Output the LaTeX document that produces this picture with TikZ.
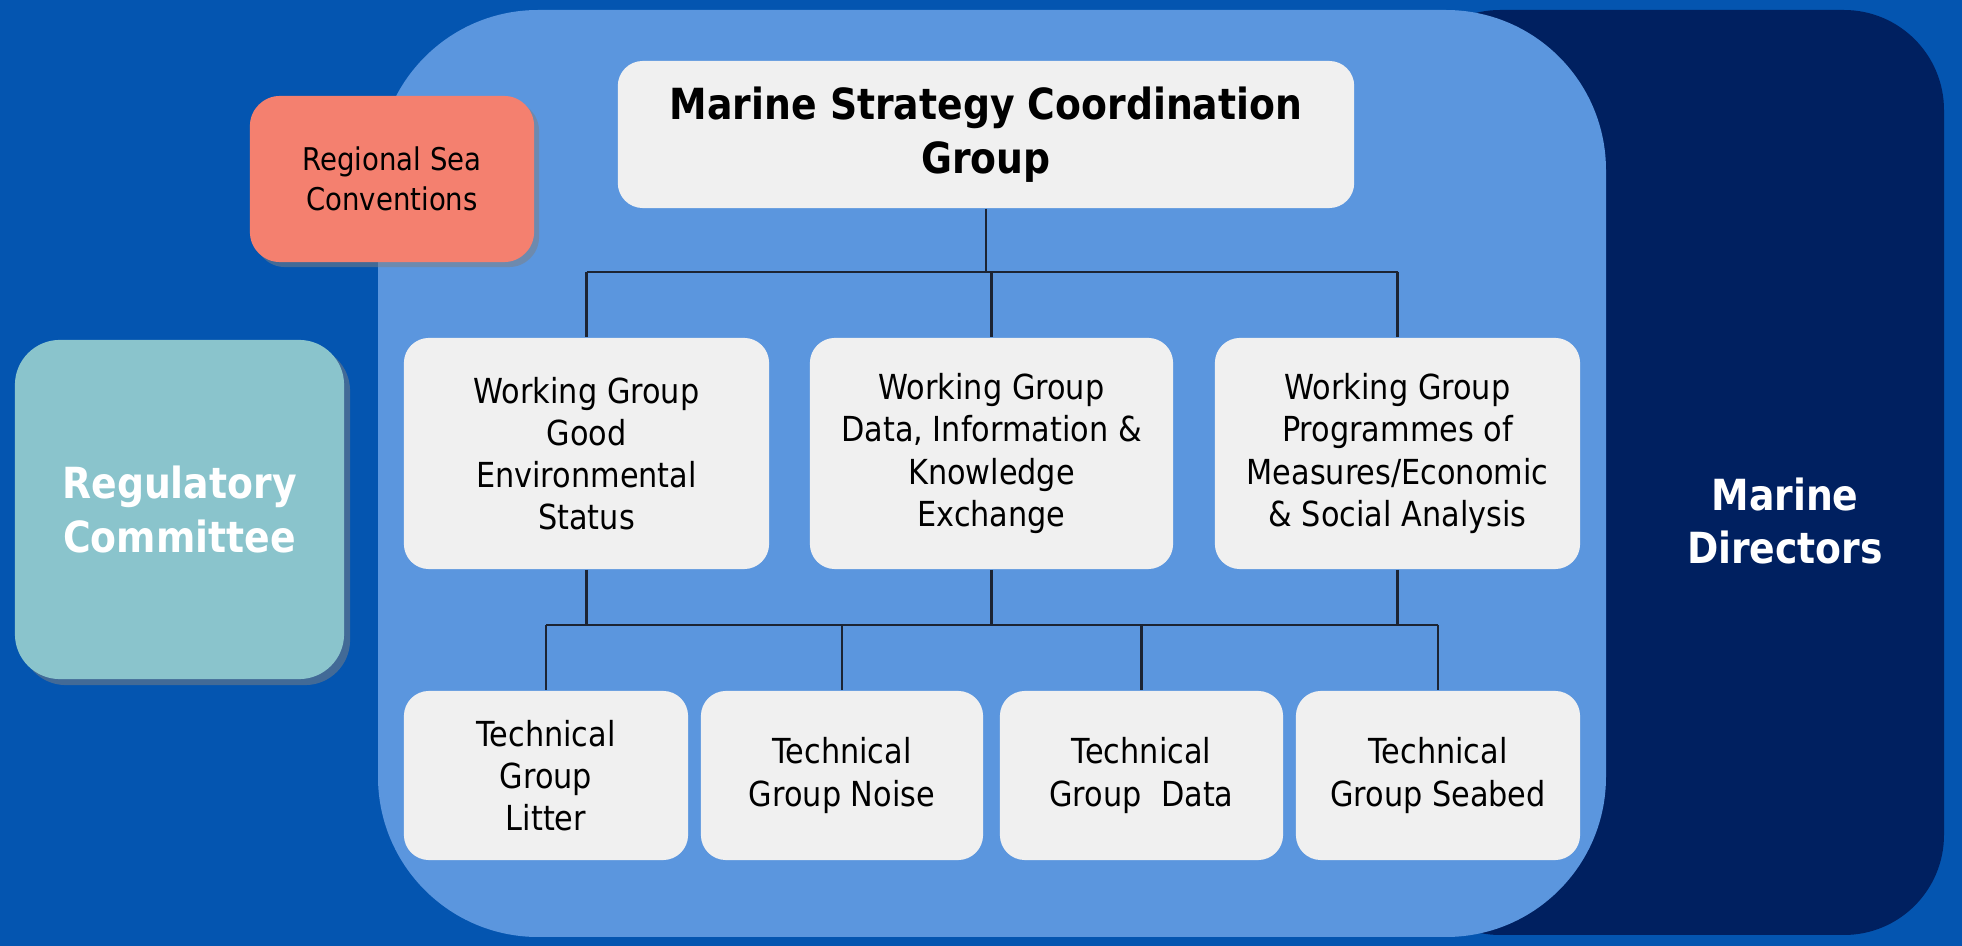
\documentclass[tikz,border=0pt]{standalone}
\usepackage{fontspec}
\setmainfont[FakeStretch=0.88]{DejaVu Sans}
\usetikzlibrary{positioning,shadows}
\definecolor{seablue}{HTML}{0455B0}
\definecolor{navyblue}{HTML}{002060}
\definecolor{panelblue}{HTML}{5B96DE}
\definecolor{tealbox}{HTML}{8AC4CC}
\definecolor{salmonbox}{HTML}{F4806F}
\definecolor{boxgrey}{HTML}{F0F0F0}
\definecolor{linkgrey}{HTML}{1C2433}

\begin{document}
\begin{tikzpicture}[x=0.01cm, y=-0.01cm,
    every node/.style={align=center, inner sep=0pt},
    grpbox/.style={fill=boxgrey, rounded corners=0.25cm, font=\fontsize{9.8}{12}\selectfont},
    bigtext/.style={font=\fontsize{12.2}{15.3}\selectfont\bfseries},
    link/.style={draw=linkgrey, line width=0.6pt}]
            \useasboundingbox (0,0) rectangle (1962,946);
            \fill[seablue] (0,0) rectangle (1962,946);
            \fill[navyblue, rounded corners=1cm] (1400,10) rectangle (1944,935);
            \fill[panelblue, rounded corners=1.6cm] (378,10) rectangle (1606,937);
            \node (marinedir) at (1785,521) [bigtext, text=white] {Marine\\Directors};
            \node (regcom) at (179.5,509.5) [fill=tealbox, rounded corners=0.45cm, minimum width=3.29cm, minimum height=3.39cm,
                drop shadow={shadow xshift=0.06cm, shadow yshift=-0.06cm, opacity=0.5}, bigtext, text=white] {Regulatory\\Committee};
            \node (rsc) at (392,179) [fill=salmonbox, rounded corners=0.3cm, minimum width=2.84cm, minimum height=1.66cm,
                drop shadow={shadow xshift=0.05cm, shadow yshift=-0.05cm, opacity=0.5}, font=\fontsize{8.9}{11.4}\selectfont] {Regional Sea\\Conventions};
            \node (mscg) at (986,134.5) [grpbox, minimum width=7.36cm, minimum height=1.47cm, bigtext] {Marine Strategy Coordination\\Group};
            \foreach \x/\w/\name/\txt in {586.5/3.65/wg1/{Working Group\\Good\\Environmental\\Status},
                                          991.5/3.63/wg2/{Working Group\\Data, Information \&\\Knowledge\\Exchange},
                                          1397.5/3.65/wg3/{Working Group\\Programmes of\\Measures/Economic\\\& Social Analysis}}
                \node (\name) at (\x,453.5) [grpbox, minimum width=\w cm, minimum height=2.31cm] {\txt};
            \foreach \x/\w/\name/\txt in {546/2.84/tg1/{Technical\\Group\\Litter},
                                          842/2.82/tg2/{Technical\\Group Noise},
                                          1141.5/2.83/tg3/{Technical\\Group\ \ Data},
                                          1438/2.84/tg4/{Technical\\Group Seabed}}
                \node (\name) at (\x,775.5) [grpbox, minimum width=\w cm, minimum height=1.69cm] {\txt};
            \coordinate (busa) at (986,272);
            \coordinate (busb) at (991,625);
            \draw[link] (mscg.south) -- (busa);
            \draw[link] (busa -| wg1.north) -- (busa -| wg3.north);
            \foreach \name in {wg1,wg2,wg3}
                \draw[link] (busa -| \name.north) -- (\name.north);
            \foreach \name in {wg1,wg2,wg3}
                \draw[link] (\name.south) -- (busb -| \name.south);
            \draw[link] (busb -| tg1.north) -- (busb -| tg4.north);
            \foreach \name in {tg1,tg2,tg3,tg4}
                \draw[link] (busb -| \name.north) -- (\name.north);
        \end{tikzpicture}
\end{document}
